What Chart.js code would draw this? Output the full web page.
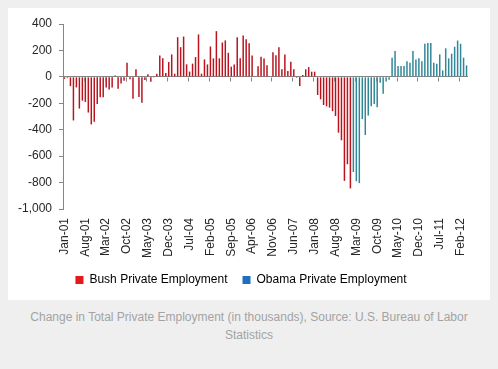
<!DOCTYPE html>
<html lang="en">
<head>
<meta charset="UTF-8">
<title>Private Employment</title>
<style>
    body {
        margin: 0;
        background-color: #efefef;
        font-family: 'Liberation Sans', Arial, sans-serif;
    }
    .card {
        position: absolute;
        left: 8px;
        top: 8px;
        width: 482px;
        height: 292px;
        background-color: #ffffff;
    }
    .chart-box {
        position: absolute;
        left: 8px;
        top: 8px;
        width: 482px;
        height: 288px;
    }
    .caption {
        position: absolute;
        left: 0;
        top: 308px;
        width: 498px;
        text-align: center;
        font-size: 12px;
        line-height: 18px;
        color: #a3a3a3;
    }
</style>
</head>
<body>
<div class="card"></div>
<div class="chart-box"><canvas id="chart"></canvas></div>
<div class="caption">Change in Total Private Employment (in thousands), Source: U.S. Bureau of Labor<br>Statistics</div>

<script src="https://cdn.jsdelivr.net/npm/chart.js@4.4.0/dist/chart.umd.min.js"></script>
<script>
// monthly change, thousands. Bush: Jan-01 .. Jan-09, Obama: Feb-09 .. Apr-12
const bushValues = [
    -15, -10, -70, -330, -80, -240, -180, -190, -270, -360, -340, -205,   // 2001
    -155, -155, -80, -95, -80, 10, -90, -50, -30, 107, -19, -165,        // 2002
    57, -152, -195, -24, 19, -37, -5, 24, 162, 140, 30, 112,              // 2003
    170, 24, 300, 225, 305, 95, 40, 100, 150, 321, 24, 132,               // 2004
    94, 230, 140, 346, 140, 260, 276, 182, 77, 94, 300, 140,              // 2005
    313, 285, 255, 162, 5, 80, 152, 138, 88, 5, 187, 164,                 // 2006
    225, 57, 170, 44, 115, 57, -6, -70, 14, 57, 74, 39,                   // 2007
    39, -137, -170, -213, -223, -233, -260, -296, -422, -480, -787, -661, // 2008
    -844                                                                  // Jan-09
];
const obamaValues = [
    -720, -790, -804, -320, -440, -293, -222, -205, -230, -45, -127,      // 2009
    -35, -21, 145, 195, 82, 82, 82, 119, 107, 195, 132, 140,              // 2010
    119, 250, 257, 257, 107, 99, 170, 49, 216, 140, 175, 228,             // 2011
    275, 250, 145, 87                                                     // 2012
];

const monthNames = ['Jan', 'Feb', 'Mar', 'Apr', 'May', 'Jun', 'Jul', 'Aug', 'Sep', 'Oct', 'Nov', 'Dec'];
const startYear = 2001;
const labelEvery = 7;
const yMin = -1000, yMax = 400, yStep = 200;

const seriesNames = ['Bush Private Employment', 'Obama Private Employment'];
const barColors = ['#b8141e', '#2f8797'];
const legendColors = ['#e3171c', '#1f6fbf'];

const total = bushValues.length + obamaValues.length;
const labels = [];
for (let i = 0; i < total; i++) {
    const yy = String((startYear + Math.floor(i / 12)) % 100).padStart(2, '0');
    labels.push(monthNames[i % 12] + '-' + yy);
}
const bushData = labels.map((l, i) => i < bushValues.length ? bushValues[i] : null);
const obamaData = labels.map((l, i) => i >= bushValues.length ? obamaValues[i - bushValues.length] : null);

const axisGray = '#868686';
const textColor = '#262626';
Chart.defaults.font.family = "'Liberation Sans', Arial, sans-serif";
Chart.defaults.font.size = 12;
Chart.defaults.color = textColor;

// little tick marks under the zero line, at the start of each labelled month
const zeroTicks = {
    id: 'zeroTicks',
    afterDatasetsDraw(chart) {
        const x = chart.scales.x, y = chart.scales.y;
        const y0 = Math.round(y.getPixelForValue(0)) + 0.5;
        const c = chart.ctx;
        c.save();
        c.strokeStyle = axisGray;
        c.lineWidth = 1;
        c.beginPath();
        for (let i = 0; i < labels.length; i += labelEvery) {
            const px = i === 0 ? x.left : (x.getPixelForValue(i) + x.getPixelForValue(i - 1)) / 2;
            const xx = Math.round(px) + 0.5;
            c.moveTo(xx, y0);
            c.lineTo(xx, y0 + 4);
        }
        c.stroke();
        c.restore();
    }
};

new Chart(document.getElementById('chart'), {
    type: 'bar',
    data: {
        labels: labels,
        datasets: [
            { label: seriesNames[0], data: bushData, backgroundColor: barColors[0] },
            { label: seriesNames[1], data: obamaData, backgroundColor: barColors[1] }
        ]
    },
    options: {
        responsive: true,
        maintainAspectRatio: false,
        animation: false,
        layout: { padding: { top: 16, right: 16, left: 0, bottom: 0 } },
        datasets: {
            bar: { grouped: false, barPercentage: 0.5, categoryPercentage: 1, borderWidth: 0 }
        },
        plugins: {
            tooltip: { enabled: false },
            legend: {
                position: 'bottom',
                labels: {
                    boxWidth: 8,
                    boxHeight: 8,
                    padding: 15,
                    color: textColor,
                    generateLabels: (chart) => chart.data.datasets.map((ds, i) => ({
                        text: ds.label,
                        fillStyle: legendColors[i],
                        strokeStyle: legendColors[i],
                        lineWidth: 0,
                        hidden: false,
                        datasetIndex: i
                    }))
                }
            }
        },
        scales: {
            x: {
                grid: { display: false, drawTicks: false },
                border: { display: false },
                ticks: {
                    autoSkip: false,
                    minRotation: 90,
                    maxRotation: 90,
                    padding: 9,
                    callback: (v, i) => i % labelEvery === 0 ? labels[i] : ''
                },
                afterFit: (s) => { s.height = 50; }
            },
            y: {
                min: yMin,
                max: yMax,
                ticks: {
                    stepSize: yStep,
                    padding: 7,
                    callback: (v) => v.toLocaleString('en-US')
                },
                grid: {
                    color: (ctx) => ctx.tick && ctx.tick.value === 0 ? axisGray : 'rgba(0,0,0,0)',
                    tickColor: axisGray,
                    tickLength: 4
                },
                border: { display: true, color: axisGray },
                afterFit: (s) => { s.width = 55; }
            }
        }
    },
    plugins: [zeroTicks]
});
</script>
</body>
</html>
